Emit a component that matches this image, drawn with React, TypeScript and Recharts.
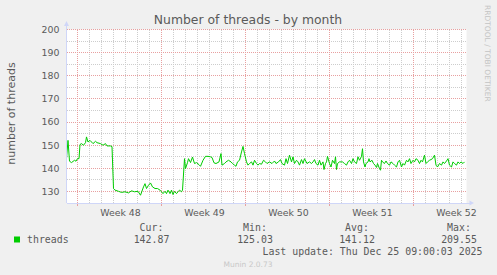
import React from 'react';
import { LineChart, Line, XAxis, YAxis, CartesianGrid, ReferenceDot, ReferenceLine } from 'recharts';

// time in hours from the left edge of the 33-day window
const hours = [
  0, 3, 6, 10, 16, 19, 22, 25, 27, 30,
  34, 38, 40, 43, 47, 53, 58, 61, 68, 73,
  78, 81, 88, 91, 94, 97, 104, 110, 117, 124,
  130, 136, 143, 148, 154, 157, 160, 164, 168, 172,
  177, 182, 187, 190, 193, 197, 200, 203, 207, 210,
  213, 216, 220, 223, 226, 230, 232, 236, 238, 242,
  244, 248, 252, 256, 260, 265, 268, 273, 278, 283,
  288, 291, 295, 299, 305, 309, 311, 316, 319, 324,
  329, 332, 336, 339, 342, 346, 350, 353, 356, 360,
  363, 366, 370, 373, 376, 380, 383, 386, 390, 394,
  398, 401, 406, 411, 416, 419, 424, 428, 431, 436,
  439, 442, 446, 450, 453, 456, 460, 463, 466, 470,
  473, 476, 481, 486, 490, 493, 496, 499, 503, 506,
  509, 513, 515, 518, 520, 522, 526, 529, 532, 536,
  538, 540, 542, 546, 552, 556, 560, 563, 566, 570,
  573, 576, 580, 583, 586, 590, 592, 594, 597, 599,
  603, 605, 607, 611, 614, 617, 620, 622, 626, 628,
  630, 632, 636, 639, 642, 646, 649, 653, 656, 660,
  663, 666, 670, 673, 676, 680, 683, 686, 689, 693,
  696, 699, 703, 706, 709, 712, 716, 719, 722, 726,
  729, 732, 736, 739, 742, 746, 750, 753, 756, 760,
  763, 766, 770, 773, 776, 780, 783, 786, 789, 793,
  796,
];

const threads = [
  144.2, 152.1, 143.1, 142.5, 143.5, 143.1, 144.2, 144.2, 150.3, 150.7,
  150, 151.1, 153.6, 151.4, 152.1, 150.7, 151.7, 151.1, 150.7, 150,
  150.7, 149.7, 149.7, 149.4, 131.3, 130.6, 130.1, 129.6, 129.9, 129.4,
  130.3, 129.9, 130.1, 128.4, 132, 133.4, 131.3, 132.7, 133.7, 132,
  131.3, 131.3, 130.6, 129.9, 129.1, 130.1, 129.1, 130.6, 129.1, 130.6,
  128.7, 130.1, 129.1, 129.9, 130.6, 129.9, 130.6, 144.2, 139.9, 142.5,
  144.2, 142.5, 144.9, 142.1, 142.5, 141.6, 140.9, 143.5, 145.2, 145.2,
  145, 144.7, 142.4, 142.1, 142.8, 146.4, 141.4, 142.1, 142.8, 143.5,
  142.8, 142.1, 141.4, 140.9, 142.8, 143.5, 147.1, 149.5, 146.4, 142.8,
  141.4, 142.1, 142.8, 141.4, 143.5, 142.1, 141.4, 142.1, 141.8, 143.5,
  142.8, 142.1, 142.8, 142.1, 143.2, 142.1, 142.8, 143.8, 142.1, 141.4,
  144.2, 142.1, 145.7, 142.8, 145, 142.1, 143.5, 142.8, 141.4, 143.8,
  142.1, 144.2, 142.1, 142.8, 142.1, 142.8, 143.8, 142.1, 141.4, 143.5,
  141.4, 142.8, 139.5, 142.1, 142.8, 145.2, 142.1, 140.6, 143.5, 142.1,
  145, 139.5, 142.1, 142.8, 142.8, 142.1, 141.4, 142.8, 143.5, 142.1,
  144.2, 142.8, 142.1, 145, 143.5, 145.2, 148.5, 142.8, 140.6, 142.1,
  142.8, 144.2, 142.8, 143.5, 142.1, 141.4, 140.4, 142.1, 139.9, 139.2,
  143.5, 142.8, 142.1, 143.2, 142.1, 141.4, 142.8, 142.1, 141.4, 140.6,
  142.8, 143.5, 140.6, 142.1, 141.4, 143.5, 142.8, 144.2, 142.1, 143.5,
  142.8, 144.2, 143.5, 142.1, 143.5, 142.8, 145.7, 142.1, 142.8, 143.5,
  143.8, 144.2, 145.7, 141.4, 140.6, 142.1, 141.4, 142.8, 142.1, 143.2,
  144.2, 141.4, 140.6, 142.8, 142.1, 141.4, 142.8, 142.1, 142.8, 142.1,
  142.8,
];

const weekTicks = [108, 276, 444, 612, 780];
const weekLabels = ['Week 48', 'Week 49', 'Week 50', 'Week 51', 'Week 52'];
const yTicks = [130, 140, 150, 160, 170, 180, 190, 200];
const yMinor = [135, 145, 155, 165, 175, 185, 195];
const weekLines = [22, 190, 358, 526, 694];
const dayLines: number[] = [];
for (let d = 22; d <= 800; d += 24) if (!weekLines.includes(d)) dayLines.push(d);

const legendHeads = ['Cur:', 'Min:', 'Avg:', 'Max:'];
const legendValues = ['142.87', '125.03', '141.12', '209.55'];
const seriesName = 'threads';
const title = 'Number of threads - by month';
const yLabel = 'number of threads';
const lastUpdate = 'Last update: Thu Dec 25 09:00:03 2025';

const data = hours.map((t, i) => ({ t, v: threads[i] }));

const SANS = '"DejaVu Sans", sans-serif';
const MONO = '"DejaVu Sans Mono", monospace';
const TXT = '#5a5a5a';
const AXIS = '#cfd6f8';
const GREEN = '#00cc00';
const MINOR = '#cdcdcd';
const MAJOR = '#e8a0a0';

const UpArrow = (p: any) => (
  <g>
    <line x1={p.cx} y1={p.cy} x2={p.cx} y2={p.cy - 4} stroke={AXIS} shapeRendering="crispEdges" />
    <polygon points={`${p.cx - 2.5},${p.cy - 3.5} ${p.cx + 2.5},${p.cy - 3.5} ${p.cx},${p.cy - 8.5}`} fill={AXIS} />
  </g>
);
const RightArrow = (p: any) => (
  <g>
    <line x1={p.cx} y1={p.cy} x2={p.cx + 3.5} y2={p.cy} stroke={AXIS} shapeRendering="crispEdges" />
    <polygon points={`${p.cx + 3},${p.cy - 2.5} ${p.cx + 3},${p.cy + 2.5} ${p.cx + 7.5},${p.cy}`} fill={AXIS} />
  </g>
);

const colX = [151.5, 255, 357, 459];

export default function App() {
  return (
    <div style={{ position: 'absolute', left: 0, top: 0, width: 497, height: 275, background: '#f0f0f0', overflow: 'hidden' }}>
      <LineChart width={497} height={275} data={data} margin={{ top: 29.5, right: 30.5, bottom: 51.9, left: 26.5 }}>
        <CartesianGrid fill="#ffffff" horizontal={false} vertical={false} />
        {dayLines.map((h) => (
          <ReferenceLine key={'d' + h} x={h} stroke={MINOR} strokeDasharray="1 1" shapeRendering="crispEdges" />
        ))}
        {yMinor.map((v) => (
          <ReferenceLine key={'m' + v} y={v} stroke={MINOR} strokeDasharray="1 1" shapeRendering="crispEdges" />
        ))}
        {weekLines.map((h) => (
          <ReferenceLine key={'w' + h} x={h} stroke={MAJOR} strokeDasharray="1 1" shapeRendering="crispEdges" />
        ))}
        {weekLines.map((h) => (
          <ReferenceLine
            key={'wt' + h}
            segment={[{ x: h, y: 125 }, { x: h, y: 123.6 }]}
            ifOverflow="visible"
            stroke={MAJOR}
            shapeRendering="crispEdges"
          />
        ))}
        {yTicks.map((v) => (
          <ReferenceLine key={'M' + v} y={v} stroke={MAJOR} strokeDasharray="1 1" shapeRendering="crispEdges" />
        ))}
        <XAxis
          dataKey="t"
          type="number"
          domain={[0, 800]}
          ticks={weekTicks}
          interval={0}
          tickFormatter={(v: number) => weekLabels[weekTicks.indexOf(v)]}
          tickLine={false}
          tickSize={4}
          tickMargin={2}
          axisLine={{ stroke: AXIS, shapeRendering: 'crispEdges' }}
          height={20}
          tick={{ fill: TXT, fontSize: 9.4, fontFamily: SANS }}
        />
        <YAxis
          type="number"
          domain={[125, 200]}
          ticks={yTicks}
          interval={0}
          tickLine={false}
          tickSize={6}
          tickMargin={1}
          axisLine={{ stroke: AXIS, shapeRendering: 'crispEdges' }}
          width={40}
          tick={{ fill: TXT, fontSize: 9.4, fontFamily: SANS }}
        />
        <Line dataKey="v" type="linear" stroke={GREEN} strokeWidth={1} dot={false} isAnimationActive={false} />
        <ReferenceDot x={0} y={200} r={0} ifOverflow="visible" shape={UpArrow} />
        <ReferenceDot x={800} y={125} r={0} ifOverflow="visible" shape={RightArrow} />
      </LineChart>
      <svg width={497} height={275} style={{ position: 'absolute', left: 0, top: 0, pointerEvents: 'none' }}>
        <text x={248} y={19.3} textAnchor="middle" dominantBaseline="central" fontFamily={SANS} fontSize={12.4} fill={TXT}>{title}</text>
        <text x={11} y={113.5} textAnchor="middle" dominantBaseline="central" fontFamily={SANS} fontSize={11} fill={TXT} transform="rotate(-90 11 113.5)">{yLabel}</text>
        <text x={487.5} y={5} textAnchor="start" dominantBaseline="central" fontFamily={SANS} fontSize={7.5} fill="#c4c4c4" transform="rotate(90 487.5 5)">RRDTOOL / TOBI OETIKER</text>
        <rect x={14} y={236.5} width={6} height={6} fill={GREEN} />
        <text x={27} y={239.5} dominantBaseline="central" fontFamily={MONO} fontSize={9.9} fill={TXT}>{seriesName}</text>
        {legendHeads.map((h, i) => (
          <text key={h} x={colX[i]} y={227.7} textAnchor="middle" dominantBaseline="central" fontFamily={MONO} fontSize={9.9} fill={TXT}>{h}</text>
        ))}
        {legendValues.map((v, i) => (
          <text key={v} x={colX[i]} y={239.5} textAnchor="middle" dominantBaseline="central" fontFamily={MONO} fontSize={9.9} fill={TXT}>{v}</text>
        ))}
        <text x={482.5} y={251.2} textAnchor="end" dominantBaseline="central" fontFamily={MONO} fontSize={9.9} fill={TXT}>{lastUpdate}</text>
        <text x={248} y={264.5} textAnchor="middle" dominantBaseline="central" fontFamily={SANS} fontSize={7.5} fill="#c8c8c8">Munin 2.0.73</text>
      </svg>
    </div>
  );
}
